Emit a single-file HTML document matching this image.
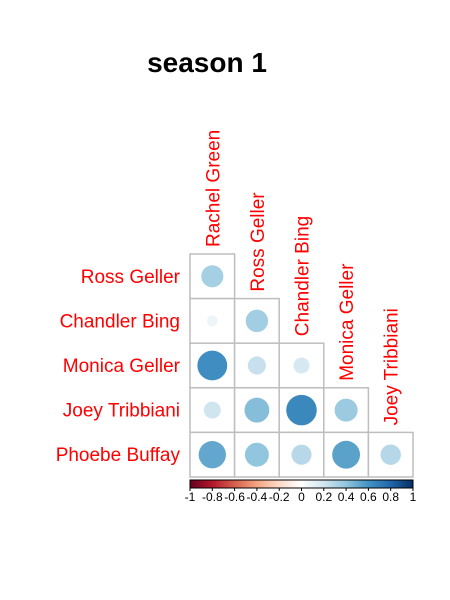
<!DOCTYPE html>
<html><head><meta charset="utf-8"><style>
body{margin:0;background:#fff;}
svg{display:block;font-family:"Liberation Sans",Arial,sans-serif;}
</style></head><body>
<svg id="chart" width="450" height="600">
<text x="207" y="72" text-anchor="middle" font-size="28" font-weight="bold">season 1</text>
<defs><linearGradient id="grad" x1="0" x2="1" y1="0" y2="0"></linearGradient></defs>
</svg>
<script>
const names = ["Rachel Green","Ross Geller","Chandler Bing","Monica Geller","Joey Tribbiani","Phoebe Buffay"];
const corrRoss = [0.34];
const corrChandler = [0.08, 0.35];
const corrMonica = [0.62, 0.23, 0.18];
const corrJoey = [0.20, 0.43, 0.65, 0.37];
const corrPhoebe = [0.52, 0.40, 0.28, 0.54, 0.29];
const corrRows = [corrRoss, corrChandler, corrMonica, corrJoey, corrPhoebe];
const colorTicks = ["-1","-0.8","-0.6","-0.4","-0.2","0","0.2","0.4","0.6","0.8","1"];

const svgEl = document.getElementById('chart');
const NS = 'http://www.w3.org/2000/svg';
const gridLeft = 190, gridTop = 254, cellSize = 44.6;
const pal = ["#67001F","#B2182B","#D6604D","#F4A582","#FDDBC7","#FFFFFF","#D1E5F0","#92C5DE","#4393C3","#2166AC","#053061"];
function hex(h){return [1,3,5].map(i=>parseInt(h.substr(i,2),16));}
function color(v){
  const t=(v+1)/2*(pal.length-1); const i=Math.min(Math.floor(t),pal.length-2); const f=t-i;
  const a=hex(pal[i]), b=hex(pal[i+1]);
  return 'rgb('+a.map((x,k)=>Math.round(x+(b[k]-x)*f)).join(',')+')';
}
function xPos(c){return gridLeft + c*cellSize;}
function yPos(r){return gridTop + r*cellSize;}
function mk(tag, attrs){const e=document.createElementNS(NS,tag); for(const k in attrs) e.setAttribute(k,attrs[k]); svgEl.appendChild(e); return e;}

corrRows.forEach((row, r) => {
  const lab = mk('text',{x:180,y:yPos(r)+cellSize/2+6.5,'text-anchor':'end','font-size':19,fill:'#FF0000'});
  lab.textContent = names[r+1];
  
  
  row.forEach((v, c) => {
    const rect = mk('rect',{x:xPos(c),y:yPos(r),width:cellSize,height:cellSize,fill:'#fff',stroke:'#BEBEBE','stroke-width':1.5});
    
    
    const circ = mk('circle',{cx:xPos(c)+cellSize/2,cy:yPos(r)+cellSize/2,r:Math.sqrt(Math.abs(v))*cellSize/2*0.85,fill:color(v)});
    
    
  });
});
for (let c=0;c<5;c++){
  const cx = xPos(c)+cellSize/2+7, by = yPos(c)-7;
  const t = mk('text',{x:cx,y:by,'font-size':19,fill:'#FF0000',transform:'rotate(-90 '+cx+' '+by+')'});
  t.textContent = names[c];
  
  
}
const grad = document.getElementById('grad');
pal.forEach((p,i)=>{const s=document.createElementNS(NS,'stop'); s.setAttribute('offset',(i/(pal.length-1)*100)+'%'); s.setAttribute('stop-color',p); grad.appendChild(s);});
const cbL=gridLeft, cbR=gridLeft+5*cellSize, cbT=480, cbB=488;
const bar = mk('rect',{x:cbL,y:cbT,width:cbR-cbL,height:cbB-cbT,fill:'url(#grad)',stroke:'#000','stroke-width':1});


colorTicks.forEach((lbl,i)=>{
  const x = cbL + (parseFloat(lbl)+1)/2*(cbR-cbL);
  const tk = mk('line',{x1:x,x2:x,y1:cbB,y2:cbB+3,stroke:'#000','stroke-width':1});
  
  
  const tl = mk('text',{x:x,y:cbB+13,'text-anchor':'middle','font-size':12,fill:'#000'});
  tl.textContent = lbl;
  
  
});
</script>
</body></html>
